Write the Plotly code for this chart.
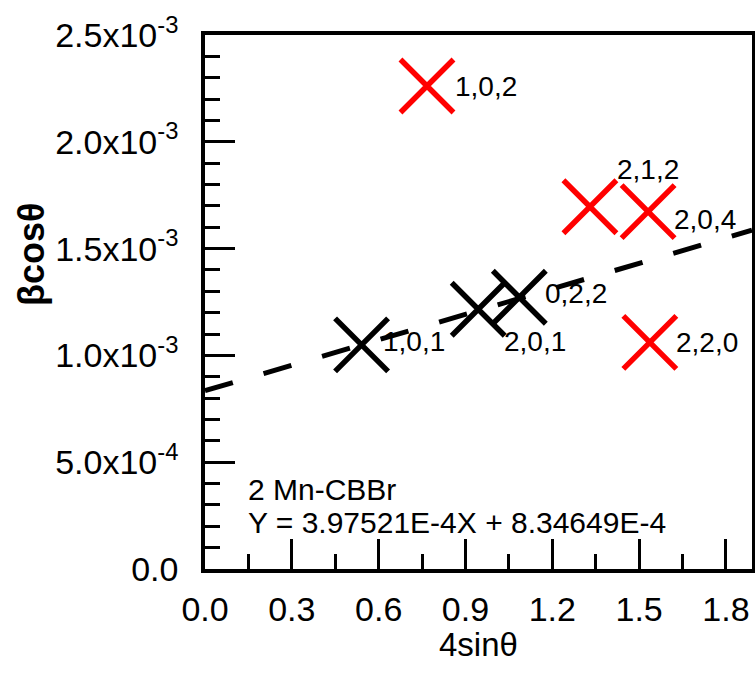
import plotly.graph_objects as go

# ---------------- data ----------------
black_labels = ["1,0,1", "2,0,1", "0,2,2"]
black_x = [0.541, 0.944, 1.086]
black_y = [1.049e-3, 1.216e-3, 1.272e-3]

red_labels = ["1,0,2", "2,1,2", "2,0,4", "2,2,0"]
red_x = [0.767, 1.330, 1.531, 1.537]
red_y = [2.261e-3, 1.696e-3, 1.673e-3, 1.061e-3]

fit_slope = 3.97521e-4
fit_intercept = 8.34649e-4
fit_x = [0.0, 1.89]

x_tickvals = [0.0, 0.3, 0.6, 0.9, 1.2, 1.5, 1.8]
x_ticktext = ["0.0", "0.3", "0.6", "0.9", "1.2", "1.5", "1.8"]
y_tickvals = [0.0, 5e-4, 1e-3, 1.5e-3, 2e-3, 2.5e-3]
y_ticktext = ["0.0", "5.0x10<sup>-4</sup>", "1.0x10<sup>-3</sup>",
              "1.5x10<sup>-3</sup>", "2.0x10<sup>-3</sup>", "2.5x10<sup>-3</sup>"]

sample_name = "2 Mn-CBBr"
equation_text = "Y = 3.97521E-4X + 8.34649E-4"
x_title = "4sinθ"
y_title = "<b>βcosθ</b>"

# label offsets (pixels) - styling only
label_offsets = {
    "1,0,1": (19, 3), "2,0,1": (24, -32), "0,2,2": (24, 4),
    "1,0,2": (26, 0), "2,1,2": (25, 37), "2,0,4": (24, -8), "2,2,0": (24, 0),
}

FONT = "Liberation Sans, Arial, sans-serif"

fig = go.Figure()

fit_y = [fit_slope * v + fit_intercept for v in fit_x]
fig.add_trace(go.Scatter(x=fit_x, y=fit_y, mode="lines",
                         line=dict(color="black", width=5, dash="29px,32px"),
                         hoverinfo="skip"))

fig.add_trace(go.Scatter(x=black_x, y=black_y, mode="markers",
                         marker=dict(symbol="x-thin", size=53,
                                     line=dict(width=5.5, color="black"))))
fig.add_trace(go.Scatter(x=red_x, y=red_y, mode="markers",
                         marker=dict(symbol="x-thin", size=53,
                                     line=dict(width=5.5, color="#ff0000"))))

for labs, xs, ys in [(black_labels, black_x, black_y), (red_labels, red_x, red_y)]:
    for lab, xv, yv in zip(labs, xs, ys):
        dx, dy = label_offsets[lab]
        fig.add_annotation(x=xv, y=yv, xref="x", yref="y", text=lab,
                           showarrow=False, xanchor="left", yanchor="middle",
                           xshift=dx, yshift=dy,
                           font=dict(family=FONT, size=28, color="black"))

fig.add_annotation(x=0.075, y=0.148, xref="paper", yref="paper", text=sample_name,
                   showarrow=False, xanchor="left", yanchor="middle",
                   font=dict(family=FONT, size=30, color="black"))
fig.add_annotation(x=0.075, y=0.088, xref="paper", yref="paper", text=equation_text,
                   showarrow=False, xanchor="left", yanchor="middle",
                   font=dict(family=FONT, size=30, color="black"))

# axis titles placed as text (y title sits off-centre like the reference)
fig.add_annotation(x=-0.318, y=0.588, xref="paper", yref="paper", text=y_title,
                   showarrow=False, xanchor="center", yanchor="middle", textangle=-90,
                   font=dict(family=FONT, size=36, color="black"))
fig.add_annotation(x=0.5, y=-0.1405, xref="paper", yref="paper", text=x_title,
                   showarrow=False, xanchor="center", yanchor="middle",
                   font=dict(family=FONT, size=33, color="black"))

axis_common = dict(showline=True, linewidth=3.5, linecolor="black", mirror=True,
                   showgrid=False, zeroline=False, ticks="inside", ticklen=30,
                   tickwidth=3, tickcolor="black", automargin=False,
                   tickfont=dict(family=FONT, size=34, color="black"))

fig.update_xaxes(range=[0, 1.89], tickmode="array", tickvals=x_tickvals,
                 ticktext=x_ticktext,
                 minor=dict(tickmode="linear", tick0=0, dtick=0.15, ticks="inside",
                            ticklen=15, tickwidth=3, tickcolor="black", showgrid=False),
                 ticklabelstandoff=7,
                 **axis_common)
fig.update_yaxes(range=[0, 2.5e-3], tickmode="array", tickvals=y_tickvals,
                 ticktext=y_ticktext,
                 minor=dict(tickmode="linear", tick0=0, dtick=1e-4, ticks="inside",
                            ticklen=15, tickwidth=3, tickcolor="black", showgrid=False),
                 ticklabelstandoff=16,
                 **axis_common)

fig.update_layout(width=755, height=679, margin=dict(l=205, r=3, t=35, b=110),
                  plot_bgcolor="white", paper_bgcolor="white", showlegend=False,
                  font=dict(family=FONT, color="black"))

fig.write_html("out.html", config={"displayModeBar": False},
               post_script="document.body.style.margin='0px';"
                           "document.body.style.overflow='hidden';")
